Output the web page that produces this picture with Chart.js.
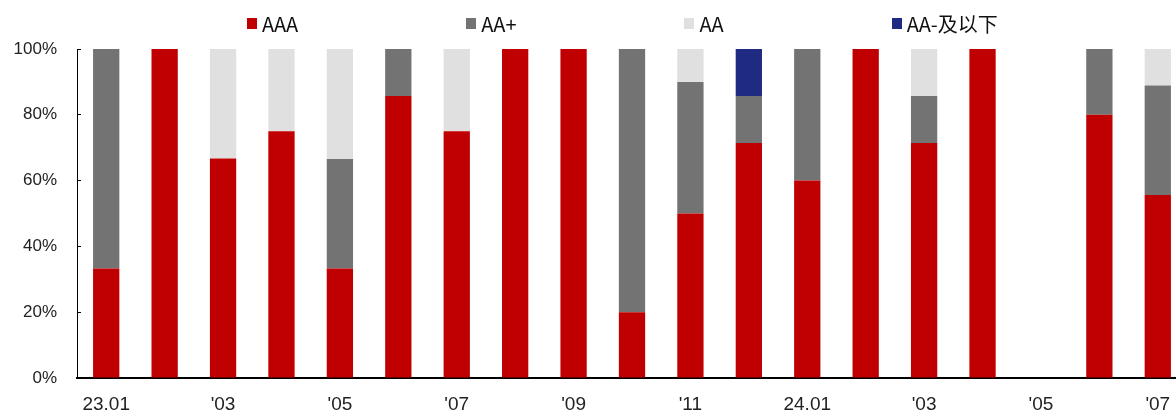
<!DOCTYPE html>
<html>
<head>
<meta charset="utf-8">
<script src="https://cdn.jsdelivr.net/npm/chart.js@4/dist/chart.umd.min.js"></script>
<style>
  html, body { margin: 0; padding: 0; background: #fff; }
  #wrap { position: relative; width: 1176px; height: 415px; overflow: hidden; }
  #c { position: absolute; left: 0; top: 0; }
  #legend { position: absolute; left: 247px; top: 9px; display: flex; align-items: center; gap: 168px;
            font-family: 'Liberation Sans Narrow', 'Noto Sans CJK SC', 'Liberation Sans', sans-serif; font-size: 20px; color: #111; }
  .item { display: flex; align-items: center; white-space: nowrap; }
  .box { width: 10px; height: 11px; margin-right: 5px; }
</style>
</head>
<body>
<div id="wrap">
  <canvas id="c" width="1190" height="415"></canvas>
  <div id="legend"></div>
</div>
<script>
const categories = ['23.01','23.02','23.03','23.04','23.05','23.06','23.07','23.08','23.09','23.10','23.11','23.12',
                    '24.01','24.02','24.03','24.04','24.05','24.06','24.07'];
const tickLabels = ['23.01','','\'03','','\'05','','\'07','','\'09','','\'11','','24.01','','\'03','','\'05','','\'07'];
const seriesNames = ['AAA','AA+','AA','AA-及以下'];
const seriesColors = ['#C00000','#737373','#E0E0E0','#1F2A82'];
const aaa      = [33.3,100,66.7,75,33.3,85.7,75,100,100,20,50,71.4,60,100,71.4,100,0,80,55.6];
const aaPlus   = [66.7,0,0,0,33.3,14.3,0,0,0,80,40,14.3,40,0,14.3,0,0,20,33.3];
const aa       = [0,0,33.3,25,33.4,0,25,0,0,0,10,0,0,0,14.3,0,0,0,11.1];
const aaMinus  = [0,0,0,0,0,0,0,0,0,0,0,14.3,0,0,0,0,0,0,0];
const yTicks = [0,20,40,60,80,100];

const seriesData = [aaa, aaPlus, aa, aaMinus];
const datasets = seriesNames.map((n, i) => ({
  label: n,
  data: seriesData[i],
  backgroundColor: seriesColors[i],
  borderWidth: 0,
  categoryPercentage: 1,
  barPercentage: 0.45
}));

const spacingPlugin = {
  id: 'xspacing',
  beforeDraw(c) { c.ctx.letterSpacing = '0px'; },
  afterDatasetsDraw(c) { c.ctx.letterSpacing = '2.5px'; },
  afterDraw(c) { c.ctx.letterSpacing = '0px'; }
};

const chart = new Chart(document.getElementById('c'), {
  type: 'bar',
  data: { labels: categories, datasets },
  plugins: [spacingPlugin],
  options: {
    responsive: false,
    animation: false,
    layout: { padding: { top: 49, right: 3, bottom: 0, left: 0 } },
    plugins: { legend: { display: false }, tooltip: { enabled: false } },
    scales: {
      x: {
        stacked: true, z: 1,
        afterFit: s => { s.height = 37; },
        grid: { display: false, drawTicks: false },
        border: { display: true, color: '#000', width: 2 },
        ticks: {
          autoSkip: false, maxRotation: 0, padding: 15, color: '#222',
          font: { family: "'Liberation Sans', sans-serif", size: 19 },
          callback: (v, i) => tickLabels[i]
        }
      },
      y: {
        stacked: true, min: 0, max: 100,
        afterFit: s => { s.width = 77; },
        afterBuildTicks: s => { s.ticks = yTicks.map(v => ({ value: v })); },
        grid: { display: true, drawOnChartArea: false, drawTicks: true, tickLength: -4, color: '#000', lineWidth: 1 },
        border: { display: true, color: '#000', width: 1 },
        ticks: {
          padding: 24, color: '#222',
          font: { family: "'Liberation Sans', sans-serif", size: 17 },
          callback: v => v + '%'
        }
      }
    }
  }
});

const lg = document.getElementById('legend');
seriesNames.forEach((n, i) => {
  const it = document.createElement('div'); it.className = 'item';
  const b = document.createElement('span'); b.className = 'box'; b.style.background = seriesColors[i];
  const t = document.createElement('span'); t.textContent = n;
  it.appendChild(b); it.appendChild(t); lg.appendChild(it);
});
</script>
</body>
</html>
